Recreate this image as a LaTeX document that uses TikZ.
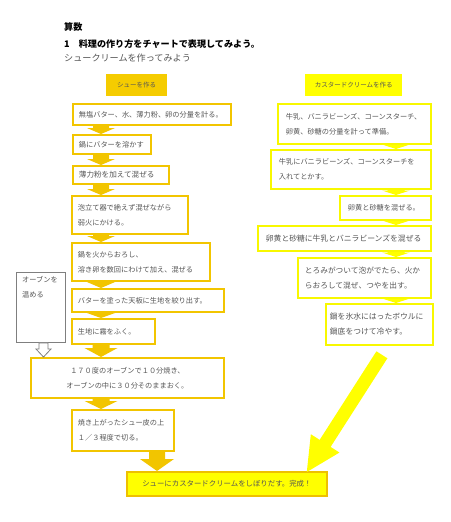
\documentclass[tikz,border=0pt]{standalone}
\usepackage{fontspec}
\setmainfont{Noto Sans CJK JP}
\usetikzlibrary{calc}
\definecolor{goldc}{HTML}{F2C500}
\definecolor{goldf}{HTML}{F5CC00}
\definecolor{yel}{HTML}{FFFF00}
\definecolor{yelb}{HTML}{F8F800}
\definecolor{txtc}{HTML}{555555}
\definecolor{ovenc}{HTML}{7F7F7F}
\definecolor{finb}{HTML}{EEC000}
\newcommand\fsz[1]{\fontsize{#1}{15}\selectfont}
% vertical block arrow: #1 style, #2 column coordinate, #3 from node, #4 to node,
% #5 shaft half width, #6 head half width, #7 head length
\newcommand\vblock[7]{%
  \path[#1] let \p1=(#2 |- #3.south), \p2=(#2 |- #4.north) in
   (\x1-#5,\y1) -- (\x1+#5,\y1) -- (\x1+#5,\y2+#7) -- (\x1+#6,\y2+#7) -- (\x1,\y2)
   -- (\x1-#6,\y2+#7) -- (\x1-#5,\y2+#7) -- cycle;}
\begin{document}
\begin{tikzpicture}[x=1pt,y=-1pt,
  lbox/.style={draw=goldc, line width=1.8pt, fill=white, anchor=north west, align=left,
    inner xsep=6pt, inner ysep=0pt, font=\fsz{7.2}, text=txtc},
  rbox/.style={lbox, draw=yelb, inner xsep=8pt},
  hbox/.style={anchor=north west, inner sep=0pt, font=\fsz{6.5}, text=txtc},
  title/.style={anchor=west, inner sep=0pt, font=\fsz{9.1}}]
\fill[white] (0,0) rectangle (450,522);
\useasboundingbox (0,0) rectangle (450,522);

% titles
\node[title, font=\bfseries\fsz{9.1}] (t1) at (64,27) {算数};
\node[title, font=\bfseries\fsz{9.1}] (t2) at (64,44) {1　料理の作り方をチャートで表現してみよう。};
\node[title, text=txtc] (t3) at (64,58) {シュークリームを作ってみよう};

% headers
\node[hbox, fill=goldf, minimum width=61pt, minimum height=22pt] (hL) at (106,74) {シューを作る};
\node[hbox, fill=yel, minimum width=97pt, minimum height=22pt] (hR) at (305,74) {カスタードクリームを作る};

% left column
\node[lbox, minimum width=158pt, minimum height=21pt, text width=146pt] (b1) at (72,103) {無塩バター、水、薄力粉、卵の分量を計る。};
\node[lbox, minimum width=78pt, minimum height=19pt, text width=66pt] (b2) at (72,134) {鍋にバターを溶かす};
\node[lbox, minimum width=96pt, minimum height=18pt, text width=84pt, font=\fsz{7.6}] (b3) at (72,165) {薄力粉を加えて混ぜる};
\node[lbox, minimum width=116pt, minimum height=38pt, text width=104pt] (b4) at (71,195) {泡立て器で絶えず混ぜながら\\弱火にかける。};
\node[lbox, minimum width=138pt, minimum height=38pt, text width=126pt] (b5) at (71,242) {鍋を火からおろし、\\溶き卵を数回にわけて加え、混ぜる};
\node[lbox, minimum width=152pt, minimum height=23pt, text width=140pt] (b6) at (71,288) {バターを塗った天板に生地を絞り出す。};
\node[lbox, minimum width=83pt, minimum height=25pt, text width=71pt] (b7) at (71,318) {生地に霧をふく。};
\node[lbox, minimum width=193pt, minimum height=40pt, text width=181pt, align=center] (b8) at (30,357) {１７０度のオーブンで１０分焼き、\\オーブンの中に３０分そのままおく。};
\node[lbox, minimum width=102pt, minimum height=41pt, text width=90pt] (b9) at (71,409) {焼き上がったシュー皮の上\\１／３程度で切る。};
\node[lbox, draw=finb, fill=yel, minimum width=200pt, minimum height=24pt, text width=188pt, align=center, font=\fsz{7.4}] (fin) at (126,471) {シューにカスタードクリームをしぼりだす。完成！};

% oven
\node[draw=ovenc, line width=0.9pt, fill=white, minimum width=49pt, minimum height=70pt, anchor=north west] (oven) at (16,272) {};
\node[anchor=north west, align=left, inner sep=0pt, font=\fsz{7.2}, text=txtc] (ovenl) at (22,276) {オーブンを\\温める};

% right column
\node[rbox, minimum width=153pt, minimum height=40pt, text width=137pt] (r1) at (277,103) {牛乳、バニラビーンズ、コーンスターチ、\\卵黄、砂糖の分量を計って準備。};
\node[rbox, minimum width=160pt, minimum height=39pt, text width=144pt] (r2) at (270,149) {牛乳にバニラビーンズ、コーンスターチを\\入れてとかす。};
\node[rbox, minimum width=91pt, minimum height=24pt, text width=75pt] (r3) at (339,195) {卵黄と砂糖を混ぜる。};
\node[rbox, minimum width=173pt, minimum height=25pt, text width=157pt, font=\fsz{7.8}] (r4) at (257,225) {卵黄と砂糖に牛乳とバニラビーンズを混ぜる};
\node[rbox, minimum width=133pt, minimum height=40pt, text width=119pt, inner xsep=7pt, font=\fsz{7.7}] (r5) at (297,257) {とろみがついて泡がでたら、火か\\らおろして混ぜ、つやを出す。};
\node[rbox, minimum width=107pt, minimum height=41pt, text width=99pt, inner xsep=4pt, font=\fsz{7.8}] (r6) at (325,303) {鍋を氷水にはったボウルに\\鍋底をつけて冷やす。};

% column coordinates
\coordinate (cL) at (101,0);
\coordinate (cR) at (396,0);
\coordinate (cF) at (157,0);
\coordinate (cO) at (43.5,0);

% left arrows
\vblock{fill=goldc}{cL}{b1}{b2}{8pt}{14pt}{6pt}
\vblock{fill=goldc}{cL}{b2}{b3}{8pt}{14pt}{6pt}
\vblock{fill=goldc}{cL}{b3}{b4}{8pt}{14pt}{6pt}
\vblock{fill=goldc}{cL}{b4}{b5}{8pt}{14pt}{6pt}
\vblock{fill=goldc}{cL}{b5}{b6}{8pt}{14pt}{6pt}
\vblock{fill=goldc}{cL}{b6}{b7}{8pt}{14pt}{5pt}
\vblock{fill=goldc}{cL}{b7}{b8}{8.5pt}{16.5pt}{9pt}
\vblock{fill=goldc}{cL}{b8}{b9}{8.5pt}{16.5pt}{8pt}
\vblock{fill=goldc}{cF}{b9}{fin}{8pt}{17pt}{12pt}
\vblock{draw=ovenc, fill=white, line width=0.8pt}{cO}{oven}{b8}{4.5pt}{7.5pt}{8pt}

% right arrows
\vblock{fill=yel}{cR}{r1}{r2}{8.5pt}{14pt}{4.5pt}
\vblock{fill=yel}{cR}{r2}{r3}{8.5pt}{14pt}{4.5pt}
\vblock{fill=yel}{cR}{r3}{r4}{8.5pt}{14pt}{4.5pt}
\vblock{fill=yel}{cR}{r4}{r5}{8.5pt}{14pt}{4.5pt}
\vblock{fill=yel}{cR}{r5}{r6}{8.5pt}{14pt}{4.5pt}

% big yellow arrow
\coordinate (yt) at ($(r6.south)+(2.5,9)$);
\coordinate (yp) at ($(fin.north east)+(-21,1)$);
\coordinate (yh) at ($(yp)!34pt!(yt)$);
\fill[yel] ($(yt)!6.5pt!90:(yp)$) -- ($(yh)!6.5pt!90:(yp)$) -- ($(yh)!17pt!90:(yp)$) -- (yp)
  -- ($(yh)!17pt!-90:(yp)$) -- ($(yh)!6.5pt!-90:(yp)$) -- ($(yt)!6.5pt!-90:(yp)$) -- cycle;
\end{tikzpicture}
\end{document}
